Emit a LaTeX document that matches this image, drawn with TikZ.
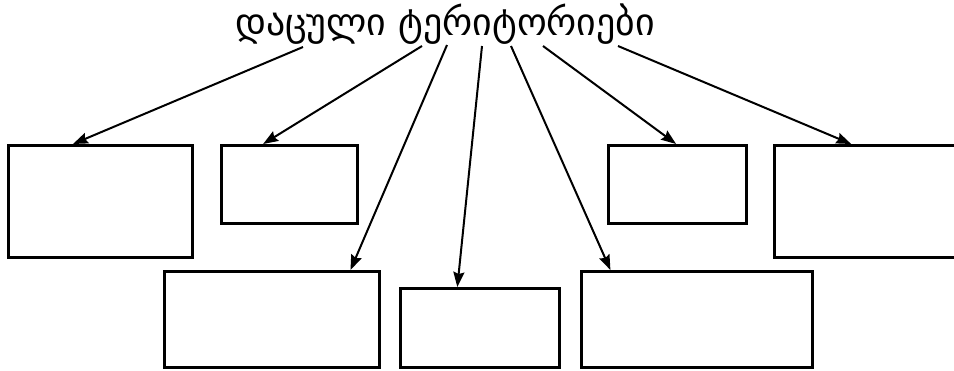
\documentclass[tikz,border=0pt]{standalone}
\usepackage{fontspec}
\newfontfamily\geofont[Script=Georgian]{DejaVu Sans}
\usetikzlibrary{arrows.meta,calc}
\tikzset{
  box/.style={draw=black, line width=3bp, anchor=north west, inner sep=0pt, fill=white},
  conn/.style={line width=2bp, -{Stealth[length=15bp,width=11bp,inset=2bp]}},
}
\begin{document}
\begin{tikzpicture}[x=1bp,y=-1bp]
\useasboundingbox (0,0) rectangle (954,370);
\node[inner sep=0pt, anchor=base, font=\geofont\fontsize{38}{44}\selectfont] (title) at (445,35) {დაცული ტერიტორიები};
% boxes
\node[box, minimum width=184bp, minimum height=112bp] (b1) at (7,144) {};
\node[box, minimum width=136bp, minimum height=78bp] (b2) at (220,144) {};
\node[box, minimum width=215bp, minimum height=96bp] (b3) at (163,270) {};
\node[box, minimum width=159bp, minimum height=79bp] (b4) at (399,287) {};
\node[box, minimum width=231bp, minimum height=96bp] (b5) at (580,270) {};
\node[box, minimum width=138bp, minimum height=78bp] (b6) at (607,144) {};
\node[box, minimum width=190bp, minimum height=112bp] (b7) at (773,144) {};
% start points under the title
\coordinate (s1) at (303,47);
\coordinate (s2) at (422,46);
\coordinate (s3) at (447,45);
\coordinate (s4) at (482,46);
\coordinate (s5) at (511,46);
\coordinate (s6) at (543,46);
\coordinate (s7) at (618,46);
\draw[conn] (s1) -- ($(b1.north west)!0.353!(b1.north east)$);
\draw[conn] (s2) -- ($(b2.north west)!0.31!(b2.north east)$);
\draw[conn] (s3) -- ($(b3.north west)!0.86!(b3.north east)$);
\draw[conn] (s4) -- ($(b4.north west)!0.36!(b4.north east)$);
\draw[conn] (s5) -- ($(b5.north west)!0.13!(b5.north east)$);
\draw[conn] (s6) -- ($(b6.north west)!0.49!(b6.north east)$);
\draw[conn] (s7) -- ($(b7.north west)!0.405!(b7.north east)$);
\end{tikzpicture}
\end{document}
